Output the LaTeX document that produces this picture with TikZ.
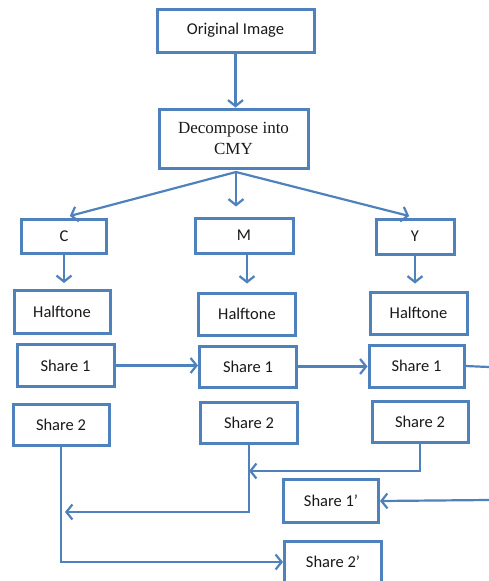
\documentclass[tikz,border=0pt]{standalone}
\usepackage{fontspec}
\setmainfont{Liberation Serif}
\newfontfamily\calib{Carlito}
\usetikzlibrary{arrows.meta}
\definecolor{boxblue}{RGB}{79,129,189}

\begin{document}
\begin{tikzpicture}[x=1pt, y=-1pt,
    box/.style={draw=boxblue, line width=3pt, minimum width=96pt, minimum height=42pt,
        inner sep=0pt, text=black!90, font=\calib\fontsize{16.5}{19}\selectfont},
    link/.style={draw=boxblue, line width=2.2pt},
    conn/.style={link, -{Straight Barb[length=6pt,width=15pt]}}
  ]
  \useasboundingbox (0,0) rectangle (489,581);

  % Top: source image and colour decomposition
  \node[box, minimum width=157pt, minimum height=43pt] (orig) at (235.5,30.5) {Original Image};
  \node[box, minimum width=149pt, minimum height=59pt, align=center,
        font=\fontsize{17}{21}\selectfont] (decomp) at (233.5,138.5) {Decompose into\\CMY};

  % Colour channels
  \node[box, minimum width=85pt, minimum height=34pt] (C) at (64,236)    {C};
  \node[box, minimum width=98pt, minimum height=35pt] (M) at (244,235.5) {M};
  \node[box, minimum width=78pt, minimum height=35pt] (Y) at (415,236.5) {Y};

  % Halftone row
  \node[box, minimum height=43pt] (htC) at (62,312)    {Halftone};
  \node[box, minimum width=97pt]  (htM) at (247,314)   {Halftone};
  \node[box, minimum width=97pt]  (htY) at (418.5,313) {Halftone};

  % Share 1 row
  \node[box, minimum width=97pt]                     (s1C) at (65.5,365.5) {Share 1};
  \node[box, minimum width=97pt, minimum height=41pt] (s1M) at (248,366.5) {Share 1};
  \node[box, minimum width=95pt]                     (s1Y) at (416.5,366)  {Share 1};

  % Share 2 row
  \node[box, minimum height=41pt]                    (s2C) at (61,424.5)  {Share 2};
  \node[box, minimum width=97pt, minimum height=41pt] (s2M) at (249,422.5) {Share 2};
  \node[box, minimum height=41pt]                    (s2Y) at (420,421.5) {Share 2};

  % Combined shares
  \node[box, minimum width=95pt, minimum height=43pt] (s1p) at (331,501) {Share 1’};
  \node[box, minimum width=97pt]                     (s2p) at (333,562) {Share 2’};

  % Free ends and junctions
  \coordinate (fan)   at (236,172);
  \coordinate (outR)  at (489,367);
  \coordinate (inR)   at (489,500);
  \coordinate (mjoin) at (s2M.south |- 0,471);
  \coordinate (cjoin) at (s2C.south |- 0,512);

  % Top arrows
  \draw[conn] (orig.south) -- (orig.south |- decomp.north);
  \draw[conn, shorten >=6pt]  (fan) -- (C.north);
  \draw[conn, shorten >=10pt] (fan) -- (fan |- M.north);
  \draw[conn, shorten >=6pt]  (fan) -- (Y.north);

  % Channel to halftone
  \draw[conn, shorten >=6pt] (C.south) -- (C.south |- htC.north);
  \draw[conn, shorten >=8pt] (htM.north |- M.south) -- (htM.north);
  \draw[conn, shorten >=7pt] (Y.south) -- (Y.south |- htY.north);

  % Share 1 chain
  \draw[conn] (s1C.east) -- (s1C.east -| s1M.west);
  \draw[conn] (s1M.east) -- (s1M.east -| s1Y.west);
  \draw[link] (s1Y.east) -- (outR);
  \draw[conn] (inR) -- (s1p.east);

  % Share 2 chain
  \draw[conn] (s2Y.south) |- (mjoin);
  \draw[conn, shorten >=4pt] (s2M.south) |- (cjoin);
  \draw[conn] (s2C.south) |- (s2p.west);
\end{tikzpicture}
\end{document}
